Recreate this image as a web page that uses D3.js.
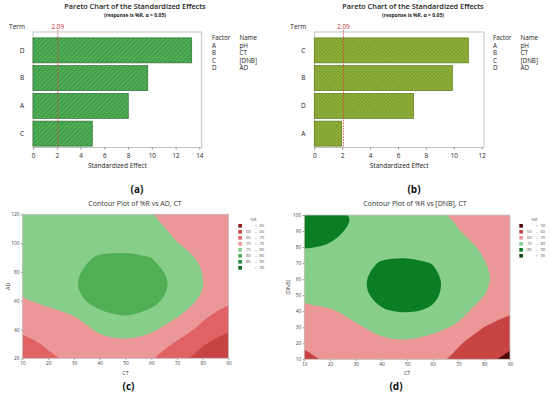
<!DOCTYPE html>
<html><head><meta charset="utf-8">
<script src="https://cdn.jsdelivr.net/npm/d3@7"></script>
<style>
body{margin:0;background:#fff}
svg{display:block}
text{font-family:"Open Sans","Noto Sans",sans-serif}
</style>
</head><body>
<svg id="chart" width="550" height="395"></svg>
<script>
// ---------- Pareto data ----------
const termsA = ["D", "B", "A", "C"];
const effectsA = [13.36, 9.66, 8.02, 4.99];
const termsB = ["C", "B", "D", "A"];
const effectsB = [11.05, 9.9, 7.12, 1.97];
const refValue = 2.09;
const ticksA = [0, 2, 4, 6, 8, 10, 12, 14];
const ticksB = [0, 2, 4, 6, 8, 10, 12];
const factorCodes = ["A", "B", "C", "D"];
const factorNames = ["pH", "CT", "[DNB]", "AD"];

// ---------- Contour data (values of %R read at grid nodes) ----------
const ctLevels = [10, 20, 30, 40, 50, 60, 70, 80, 90];
const adLevels = [20, 30, 40, 50, 60, 70, 80, 90, 100, 110, 120];
// rows: AD = 20 ... 120 ; columns: CT = 10 ... 90
const gridAD = [
  [66.0, 69.3, 71.0, 72.3, 72.2, 70.2, 67.2, 62.8, 60.3],
  [68.3, 70.6, 72.5, 74.0, 74.3, 72.8, 69.3, 65.5, 62.0],
  [70.8, 71.5, 73.2, 75.6, 77.3, 75.8, 72.5, 68.8, 65.4],
  [72.0, 73.5, 75.1, 79.5, 80.15, 79.4, 75.6, 71.0, 67.5],
  [74.5, 76.2, 79.3, 81.1, 81.6, 80.9, 78.7, 74.2, 71.0],
  [76.5, 78.0, 79.85, 81.6, 82.1, 81.4, 79.4, 75.1, 72.5],
  [77.5, 78.6, 79.6, 81.3, 81.85, 81.1, 79.1, 74.9, 72.8],
  [77.8, 78.8, 79.3, 80.3, 80.8, 80.0, 77.2, 74.3, 72.5],
  [77.8, 78.8, 79.3, 79.0, 78.8, 77.6, 75.1, 73.0, 72.5],
  [77.5, 78.5, 79.0, 78.8, 78.0, 76.3, 74.0, 72.7, 72.3],
  [77.0, 77.8, 78.2, 78.0, 77.0, 75.1, 73.5, 72.5, 72.0]
];
const dnbLevels = [10, 20, 30, 40, 50, 60, 70, 80, 90, 100];
// rows: [DNB] = 10 ... 100 ; columns: CT = 10 ... 90
const gridDNB = [
  [57.5, 61.5, 64.0, 66.0, 66.5, 63.5, 57.5, 52.5, 47.5],
  [61.5, 63.0, 66.0, 68.7, 69.3, 67.0, 60.8, 55.0, 52.0],
  [64.5, 65.5, 68.8, 72.5, 74.0, 72.5, 68.8, 59.8, 56.0],
  [68.5, 68.8, 73.0, 79.6, 80.6, 79.4, 72.5, 66.5, 61.0],
  [72.2, 74.0, 78.4, 81.8, 82.6, 81.2, 76.9, 70.1, 64.5],
  [74.5, 75.5, 78.8, 82.1, 82.9, 81.5, 77.5, 71.5, 66.5],
  [77.5, 77.0, 78.0, 80.5, 81.4, 79.85, 75.2, 70.3, 66.5],
  [80.4, 79.6, 78.3, 77.8, 77.8, 76.3, 72.8, 69.0, 66.0],
  [82.5, 81.5, 79.0, 77.8, 76.8, 74.5, 70.2, 67.0, 65.0],
  [84.0, 82.5, 79.8, 77.5, 75.5, 72.5, 68.5, 65.5, 64.0]
];
const thresholdsC = [60, 65, 70, 75, 80, 85, 90];
const legendC = [["", "<", "60"], ["60", "–", "65"], ["65", "–", "70"], ["70", "–", "75"],
                 ["75", "–", "80"], ["80", "–", "85"], ["85", "–", "90"], ["", ">", "90"]];
const colorsC = ["#8b1a1a", "#c84444", "#e06262", "#ec9797", "#87ce8b", "#50ae55", "#1f8a34", "#0a6a1c"];
const thresholdsD = [50, 60, 70, 80, 90];
const legendD = [["", "<", "50"], ["50", "–", "60"], ["60", "–", "70"], ["70", "–", "80"],
                 ["80", "–", "90"], ["", ">", "90"]];
const colorsD = ["#4d0606", "#c84444", "#ec9797", "#87ce8b", "#0b7e24", "#0a4a14"];
const xTicksCT = [10, 20, 30, 40, 50, 60, 70, 80, 90];
const yTicksAD = [20, 40, 60, 80, 100, 120];
const yTicksDNB = [10, 20, 30, 40, 50, 60, 70, 80, 90, 100];

const svg = d3.select("#chart");
const defs = svg.append("defs");
const FONT = '"Open Sans","Noto Sans",sans-serif';

// patterns for the Pareto bars
const pA = defs.append("pattern").attr("id", "hatchA").attr("patternUnits", "userSpaceOnUse")
  .attr("width", 3.2).attr("height", 3.2).attr("patternTransform", "rotate(45)");
pA.append("rect").attr("width", 3.2).attr("height", 3.2).attr("fill", "#4fae55");
pA.append("line").attr("x1", 0).attr("y1", 0).attr("x2", 0).attr("y2", 3.2)
  .attr("stroke", "#2f7f35").attr("stroke-width", 1.1);
const pB = defs.append("pattern").attr("id", "hatchB").attr("patternUnits", "userSpaceOnUse")
  .attr("width", 2.6).attr("height", 2.6).attr("patternTransform", "rotate(45)");
pB.append("rect").attr("width", 2.6).attr("height", 2.6).attr("fill", "#92b23c");
pB.append("line").attr("x1", 0).attr("y1", 0).attr("x2", 0).attr("y2", 2.6)
  .attr("stroke", "#6f8f22").attr("stroke-width", 0.8);
pB.append("line").attr("x1", 0).attr("y1", 0).attr("x2", 2.6).attr("y2", 0)
  .attr("stroke", "#6f8f22").attr("stroke-width", 0.8);

function pareto(opt) {
  const g = svg.append("g");
  const x = d3.scaleLinear().domain([0, opt.max]).range([opt.left, opt.right]);
  const y = d3.scaleBand().domain(opt.terms).range([36.5, 147.5]).paddingInner(0.1).paddingOuter(0.05);
  const top = 32, bottom = 147.5;

  g.append("text").attr("x", opt.cx).attr("y", 9).attr("text-anchor", "middle")
    .attr("font-size", 7.3).attr("font-weight", 600).attr("fill", "#222")
    .text("Pareto Chart of the Standardized Effects");
  g.append("text").attr("x", opt.cx).attr("y", 17).attr("text-anchor", "middle")
    .attr("font-size", 5).attr("font-weight", 700).attr("fill", "#222")
    .text("(response is %R, α = 0.05)");
  g.append("text").attr("x", opt.left - 16).attr("y", 28.5).attr("text-anchor", "middle")
    .attr("font-size", 6.5).attr("fill", "#222").text("Term");

  g.append("rect").attr("x", opt.left).attr("y", top).attr("width", opt.right - opt.left)
    .attr("height", bottom - top).attr("fill", "none").attr("stroke", "#b5b5b5").attr("stroke-width", 0.8);

  g.selectAll(".bar").data(opt.terms.map((t, i) => ({ t, v: opt.effects[i] }))).join("rect")
    .attr("x", x(0)).attr("y", d => y(d.t)).attr("width", d => x(d.v) - x(0))
    .attr("height", y.bandwidth()).attr("fill", opt.fill).attr("stroke", opt.stroke).attr("stroke-width", 0.7);

  g.selectAll(".lab").data(opt.terms).join("text")
    .attr("x", opt.left - 11).attr("y", d => y(d) + y.bandwidth() / 2).attr("dy", "0.35em")
    .attr("text-anchor", "middle").attr("font-size", 6.5).attr("fill", "#222").text(d => d);

  g.append("line").attr("x1", x(refValue)).attr("x2", x(refValue)).attr("y1", 30).attr("y2", bottom)
    .attr("stroke", "#d23c3c").attr("stroke-width", 0.8).attr("stroke-dasharray", "1.6,1.2");
  g.append("text").attr("x", x(refValue)).attr("y", 29).attr("text-anchor", "middle")
    .attr("font-size", 6.3).attr("fill", "#c43030").text(refValue.toFixed(2));

  const ax = g.append("g").attr("transform", `translate(0,${bottom})`)
    .call(d3.axisBottom(x).tickValues(opt.ticks).tickSize(2).tickPadding(4));
  ax.select(".domain").remove();
  ax.selectAll("line").attr("stroke", "#888");
  ax.selectAll("text").attr("font-size", 6.3).attr("fill", "#222").attr("font-family", FONT);
  g.append("text").attr("x", (opt.left + opt.right) / 2).attr("y", 168).attr("text-anchor", "middle")
    .attr("font-size", 6.5).attr("fill", "#222").text("Standardized Effect");

  const leg = g.append("g").attr("font-family", "Lato, sans-serif").attr("font-size", 6.3).attr("fill", "#222");
  leg.append("text").attr("x", opt.legX).attr("y", 40).text("Factor");
  leg.append("text").attr("x", opt.legX + 27.5).attr("y", 40).text("Name");
  factorCodes.forEach((c, i) => {
    leg.append("text").attr("x", opt.legX).attr("y", 47.6 + i * 7.6).text(c);
    leg.append("text").attr("x", opt.legX + 27.5).attr("y", 47.6 + i * 7.6).text(factorNames[i]);
  });
}

pareto({ terms: termsA, effects: effectsA, ticks: ticksA, max: 14.2, left: 33, right: 201.7,
  cx: 135, legX: 212, fill: "url(#hatchA)", stroke: "#2c6e31" });
pareto({ terms: termsB, effects: effectsB, ticks: ticksB, max: 12.17, left: 314.3, right: 484,
  cx: 413, legX: 493, fill: "url(#hatchB)", stroke: "#5d7a1c" });

function contourPanel(opt) {
  const g = svg.append("g");
  const x = d3.scaleLinear().domain([opt.xs[0], opt.xs[opt.xs.length - 1]]).range([opt.left, opt.right]);
  const y = d3.scaleLinear().domain([opt.ys[0], opt.ys[opt.ys.length - 1]]).range([opt.bottom, opt.top]);
  const nx = opt.xs.length, ny = opt.ys.length;
  const gx = d3.scaleLinear().domain([0.5, nx - 0.5]).range([x(opt.xs[0]), x(opt.xs[nx - 1])]);
  const gy = d3.scaleLinear().domain([0.5, ny - 0.5]).range([y(opt.ys[0]), y(opt.ys[ny - 1])]);
  const values = opt.grid.flat();
  const contours = d3.contours().size([nx, ny]).thresholds(opt.thresholds)(values);

  const clipId = "clip" + opt.id;
  defs.append("clipPath").attr("id", clipId).append("rect")
    .attr("x", opt.left).attr("y", opt.top).attr("width", opt.right - opt.left).attr("height", opt.bottom - opt.top);
  const area = g.append("g").attr("clip-path", `url(#${clipId})`);
  area.append("rect").attr("x", opt.left).attr("y", opt.top).attr("width", opt.right - opt.left)
    .attr("height", opt.bottom - opt.top).attr("fill", opt.colors[0]);
  const line = d3.line().curve(d3.curveBasisClosed);
  const pathOf = geom => geom.coordinates.map(poly => poly.map(ring =>
    line(ring.slice(0, -1).map(p => [gx(p[0]), gy(p[1])]))).join("")).join("");
  area.selectAll("path").data(contours).join("path")
    .attr("d", pathOf).attr("fill", (d, i) => opt.colors[i + 1]).attr("fill-rule", "evenodd");

  g.append("rect").attr("x", opt.left).attr("y", opt.top).attr("width", opt.right - opt.left)
    .attr("height", opt.bottom - opt.top).attr("fill", "none").attr("stroke", "#c8c8c8").attr("stroke-width", 0.8);

  const ax = g.append("g").attr("transform", `translate(0,${opt.bottom})`)
    .call(d3.axisBottom(x).tickValues(opt.xTicks).tickSize(1.5).tickPadding(1.5));
  const ay = g.append("g").attr("transform", `translate(${opt.left},0)`)
    .call(d3.axisLeft(y).tickValues(opt.yTicks).tickSize(1.5).tickPadding(1.5));
  [ax, ay].forEach(a => {
    a.select(".domain").remove();
    a.selectAll("line").attr("stroke", "#999");
    a.selectAll("text").attr("font-size", 4.8).attr("fill", "#444").attr("font-family", FONT);
  });

  g.append("text").attr("x", (opt.left + opt.right) / 2).attr("y", 375).attr("text-anchor", "middle")
    .attr("font-size", 5.5).attr("fill", "#444").text("CT");
  g.append("text").attr("transform", `translate(${opt.yLabX},${(opt.top + opt.bottom) / 2}) rotate(-90)`)
    .attr("text-anchor", "middle").attr("font-size", 5.5).attr("fill", "#444").text(opt.yLabel);
  g.append("text").attr("x", opt.cx).attr("y", 205.5).attr("text-anchor", "middle")
    .attr("font-size", 7).attr("fill", "#333").text(opt.title);

  // legend
  g.append("text").attr("x", opt.legX + 15).attr("y", 221).attr("text-anchor", "middle")
    .attr("font-size", 4.3).attr("fill", "#555").text("%R");
  opt.legend.forEach((l, i) => {
    const yy = 224 + i * 6;
    g.append("rect").attr("x", opt.legX).attr("y", yy).attr("width", 3.6).attr("height", 3.6).attr("fill", opt.colors[i]);
    g.append("text").attr("x", opt.legX + 12.5).attr("y", yy + 3.3).attr("text-anchor", "end")
      .attr("font-size", 4.3).attr("fill", "#555").text(l[0]);
    g.append("text").attr("x", opt.legX + 17.5).attr("y", yy + 3.3).attr("text-anchor", "middle")
      .attr("font-size", 4.3).attr("fill", "#555").text(l[1]);
    g.append("text").attr("x", opt.legX + 26).attr("y", yy + 3.3).attr("text-anchor", "end")
      .attr("font-size", 4.3).attr("fill", "#555").text(l[2]);
  });
}

contourPanel({ id: "c", xs: ctLevels, ys: adLevels, grid: gridAD, thresholds: thresholdsC, colors: colorsC,
  legend: legendC, left: 22.5, right: 228.5, top: 214.3, bottom: 358.3, xTicks: xTicksCT, yTicks: yTicksAD,
  yLabel: "AD", yLabX: 10, cx: 135, title: "Contour Plot of %R vs AD, CT", legX: 238.3 });
contourPanel({ id: "d", xs: ctLevels, ys: dnbLevels, grid: gridDNB, thresholds: thresholdsD, colors: colorsD,
  legend: legendD, left: 304.3, right: 510, top: 215, bottom: 359.3, xTicks: xTicksCT, yTicks: yTicksDNB,
  yLabel: "[DNB]", yLabX: 289.5, cx: 415, title: "Contour Plot of %R vs [DNB], CT", legX: 519.3 });

// panel captions
[["(a)", 137, 193], ["(b)", 414, 193], ["(c)", 128.5, 390], ["(d)", 396, 390]].forEach(([t, xx, yy]) => {
  svg.append("text").attr("x", xx).attr("y", yy).attr("text-anchor", "middle")
    .attr("font-family", '"Liberation Serif","DejaVu Serif",serif').attr("font-weight", 700)
    .attr("font-size", 10).attr("fill", "#111").text(t);
});
</script>
</body></html>
